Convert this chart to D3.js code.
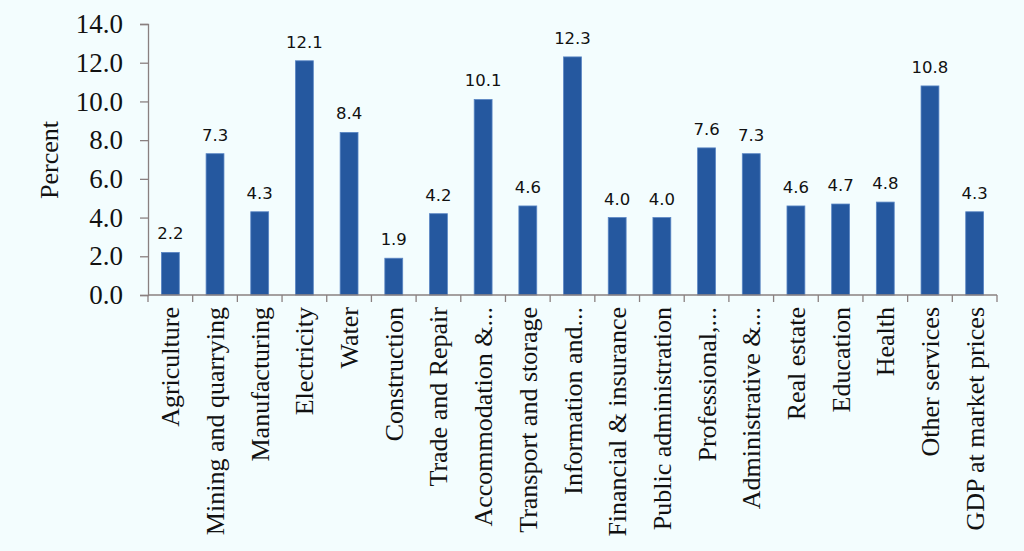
<!DOCTYPE html>
<html>
<head>
<meta charset="utf-8">
<script src="https://cdn.jsdelivr.net/npm/d3@7"></script>
<style>
  html, body { margin: 0; padding: 0; background: #f3fdfe; }
  svg { display: block; }
</style>
</head>
<body>
<div id="chart"></div>
<script>
// categories and values
var sectors = [
  "Agriculture", "Mining and quarrying", "Manufacturing", "Electricity", "Water",
  "Construction", "Trade and Repair", "Accommodation &...", "Transport and storage",
  "Information and...", "Financial & insurance", "Public administration",
  "Professional,...", "Administrative &...", "Real estate", "Education", "Health",
  "Other services", "GDP at market prices"
];
var growth = [2.2, 7.3, 4.3, 12.1, 8.4, 1.9, 4.2, 10.1, 4.6, 12.3, 4.0, 4.0, 7.6, 7.3, 4.6, 4.7, 4.8, 10.8, 4.3];
var yTicks = [0, 2, 4, 6, 8, 10, 12, 14];

var width = 1024, height = 551;
var margin = { top: 24, right: 27, bottom: 256, left: 148 };

var svg = d3.select("#chart").append("svg")
  .attr("width", width)
  .attr("height", height);

svg.append("rect")
  .attr("width", width)
  .attr("height", height)
  .attr("fill", "#f3fdfe");

var x = d3.scaleBand()
  .domain(sectors)
  .range([margin.left, width - margin.right])
  .paddingInner(0.6)
  .paddingOuter(0.3);

var y = d3.scaleLinear()
  .domain([0, 14])
  .range([height - margin.bottom, margin.top]);

// bars
svg.selectAll(".bar")
  .data(growth)
  .enter().append("rect")
  .attr("class", "bar")
  .attr("x", function (d, i) { return x(sectors[i]); })
  .attr("y", function (d) { return y(d); })
  .attr("width", x.bandwidth())
  .attr("height", function (d) { return y(0) - y(d); })
  .attr("fill", "#25589f")
  .attr("stroke", "#5a86c4")
  .attr("stroke-width", 0.8);

// value labels
svg.selectAll(".val")
  .data(growth)
  .enter().append("text")
  .attr("class", "val")
  .attr("x", function (d, i) { return x(sectors[i]) + x.bandwidth() / 2; })
  .attr("y", function (d) { return y(d) - 13; })
  .attr("text-anchor", "middle")
  .attr("font-family", "DejaVu Sans")
  .attr("font-size", 16.5)
  .attr("fill", "#111")
  .text(function (d) { return d.toFixed(1); });

// y axis
var yAxis = svg.append("g")
  .attr("transform", "translate(" + margin.left + ",0)")
  .call(d3.axisLeft(y).tickValues(yTicks).tickSize(8).tickPadding(17)
    .tickFormat(d3.format(".1f")));
yAxis.selectAll("line, path").attr("stroke", "#8a8080").attr("stroke-width", 1.3);
yAxis.selectAll("text")
  .attr("font-family", "Liberation Serif")
  .attr("font-size", 27)
  .attr("fill", "#111");

// x axis: ticks sit between categories
var step = x.step();
var xEdges = d3.range(sectors.length + 1).map(function (i) { return margin.left + i * step; });
var base = y(0);
svg.append("line")
  .attr("x1", margin.left).attr("x2", width - margin.right)
  .attr("y1", base).attr("y2", base)
  .attr("stroke", "#8a8080").attr("stroke-width", 1.3);
svg.selectAll(".xtick")
  .data(xEdges)
  .enter().append("line")
  .attr("class", "xtick")
  .attr("x1", function (d) { return d; }).attr("x2", function (d) { return d; })
  .attr("y1", base).attr("y2", base + 7)
  .attr("stroke", "#8a8080").attr("stroke-width", 1.3);

// category labels, rotated
svg.selectAll(".cat")
  .data(sectors)
  .enter().append("text")
  .attr("class", "cat")
  .attr("transform", function (d) {
    return "translate(" + (x(d) + x.bandwidth() / 2 + 9) + "," + (base + 12) + ") rotate(-90)";
  })
  .attr("text-anchor", "end")
  .attr("font-family", "Liberation Serif")
  .attr("font-size", 26)
  .attr("fill", "#111")
  .text(function (d) { return d; });

// y axis title
svg.append("text")
  .attr("transform", "translate(58,160) rotate(-90)")
  .attr("text-anchor", "middle")
  .attr("font-family", "Liberation Serif")
  .attr("font-size", 26)
  .attr("fill", "#111")
  .text("Percent");
</script>
</body>
</html>
